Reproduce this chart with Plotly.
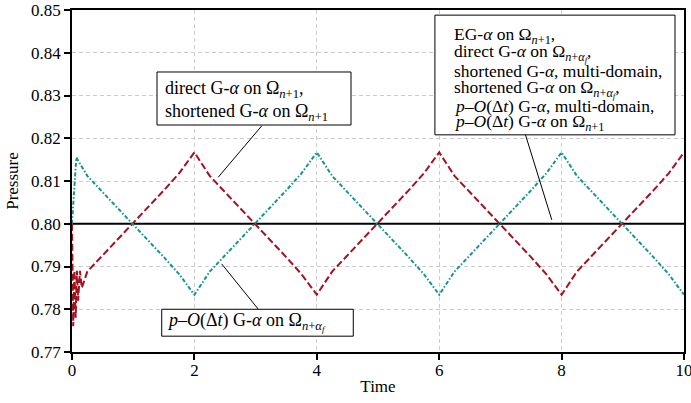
import plotly.graph_objects as go

# ---------------- data ----------------
t_red = [0.0, 0.02, 0.04, 0.06, 0.08, 0.10, 0.13, 0.16,
         0.25, 0.5, 0.75, 1.0, 1.25, 1.5, 1.75, 2.0,
         2.25, 2.5, 2.75, 3.0, 3.25, 3.5, 3.75, 4.0,
         4.25, 4.5, 4.75, 5.0, 5.25, 5.5, 5.75, 6.0,
         6.25, 6.5, 6.75, 7.0, 7.25, 7.5, 7.75, 8.0,
         8.25, 8.5, 8.75, 9.0, 9.25, 9.5, 9.75, 10.0]
p_red = [0.800, 0.776, 0.789, 0.778, 0.789, 0.782, 0.789, 0.785,
         0.7888, 0.7926, 0.7963, 0.8000, 0.8038, 0.8078, 0.8118, 0.8167,
         0.8112, 0.8074, 0.8037, 0.8000, 0.7962, 0.7922, 0.7882, 0.7834,
         0.7888, 0.7926, 0.7963, 0.8000, 0.8038, 0.8078, 0.8118, 0.8167,
         0.8112, 0.8074, 0.8037, 0.8000, 0.7962, 0.7922, 0.7882, 0.7834,
         0.7888, 0.7926, 0.7963, 0.8000, 0.8038, 0.8078, 0.8118, 0.8167]

t_teal = [0.0, 0.03, 0.07,
          0.25, 0.5, 0.75, 1.0, 1.25, 1.5, 1.75, 2.0,
          2.25, 2.5, 2.75, 3.0, 3.25, 3.5, 3.75, 4.0,
          4.25, 4.5, 4.75, 5.0, 5.25, 5.5, 5.75, 6.0,
          6.25, 6.5, 6.75, 7.0, 7.25, 7.5, 7.75, 8.0,
          8.25, 8.5, 8.75, 9.0, 9.25, 9.5, 9.75, 10.0]
p_teal = [0.800, 0.808, 0.8155,
          0.8112, 0.8074, 0.8037, 0.8000, 0.7962, 0.7922, 0.7882, 0.7834,
          0.7888, 0.7926, 0.7963, 0.8000, 0.8038, 0.8078, 0.8118, 0.8167,
          0.8112, 0.8074, 0.8037, 0.8000, 0.7962, 0.7922, 0.7882, 0.7834,
          0.7888, 0.7926, 0.7963, 0.8000, 0.8038, 0.8078, 0.8118, 0.8167,
          0.8112, 0.8074, 0.8037, 0.8000, 0.7962, 0.7922, 0.7882, 0.7834]

t_black = [0.0, 10.0]
p_black = [0.80, 0.80]

x_ticks = [0, 2, 4, 6, 8, 10]
y_ticks = [0.77, 0.78, 0.79, 0.80, 0.81, 0.82, 0.83, 0.84, 0.85]

box1_lines = ["direct G-<i>α</i> on Ω<sub><i>n</i>+1</sub>,",
              "shortened G-<i>α</i> on Ω<sub><i>n</i>+1</sub>"]
box2_lines = ["EG-<i>α</i> on Ω<sub><i>n</i>+1</sub>,",
              "direct G-<i>α</i> on Ω<sub><i>n</i>+<i>α<sub>f</sub></i></sub>,",
              "shortened G-<i>α</i>, multi-domain,",
              "shortened G-<i>α</i> on Ω<sub><i>n</i>+<i>α<sub>f</sub></i></sub>,",
              "<i>p</i>–<i>O</i>(Δ<i>t</i>) G-<i>α</i>, multi-domain,",
              "<i>p</i>–<i>O</i>(Δ<i>t</i>) G-<i>α</i> on Ω<sub><i>n</i>+1</sub>"]
box3_lines = ["<i>p</i>–<i>O</i>(Δ<i>t</i>) G-<i>α</i> on Ω<sub><i>n</i>+<i>α<sub>f</sub></i></sub>"]

RED = "#a3121f"
TEAL = "#12968a"
FONT = "Liberation Serif"

fig = go.Figure()
fig.add_trace(go.Scatter(x=t_black, y=p_black, mode="lines",
                         line=dict(color="black", width=2), showlegend=False))
fig.add_trace(go.Scatter(x=t_red, y=p_red, mode="lines",
                         line=dict(color=RED, width=2, dash="7px,3px"), showlegend=False))
fig.add_trace(go.Scatter(x=t_teal, y=p_teal, mode="lines",
                         line=dict(color=TEAL, width=2, dash="4px,2px,1.5px,2px"), showlegend=False))

# ---- annotation boxes (data coordinates) ----
boxes = [
    dict(x0=1.389, x1=4.559, y0=0.8231, y1=0.8355),
    dict(x0=5.930, x1=9.853, y0=0.8208, y1=0.8488),
    dict(x0=1.466, x1=4.596, y0=0.7737, y1=0.7800),
]
for b in boxes:
    fig.add_shape(type="rect", xref="x", yref="y", x0=b["x0"], x1=b["x1"],
                  y0=b["y0"], y1=b["y1"], line=dict(color="black", width=1),
                  fillcolor="white", layer="above")

leaders = [
    dict(x0=3.10, y0=0.8229, x1=2.39, y1=0.8109),
    dict(x0=7.41, y0=0.8208, x1=7.84, y1=0.8009),
    dict(x0=3.044, y0=0.7800, x1=2.446, y1=0.7906),
]
for l in leaders:
    fig.add_shape(type="line", xref="x", yref="y", x0=l["x0"], y0=l["y0"],
                  x1=l["x1"], y1=l["y1"], line=dict(color="black", width=1),
                  layer="above")

def add_lines(lines, x, ys, size):
    for txt, y in zip(lines, ys):
        fig.add_annotation(x=x, y=y, xref="x", yref="y", text=txt, showarrow=False,
                           xanchor="left", yanchor="middle", align="left",
                           font=dict(family=FONT, size=size, color="black"))

add_lines(box1_lines, 1.49, [0.8313, 0.8261], 18)
add_lines(box2_lines, 6.21, [0.8440, 0.8399, 0.8358, 0.8316, 0.8276, 0.8237], 17.5)
add_lines(box3_lines, 1.52, [0.7770], 18)

fig.update_layout(
    width=691, height=403,
    margin=dict(l=72, r=7, t=10, b=51, autoexpand=False),
    plot_bgcolor="white", paper_bgcolor="white",
    font=dict(family=FONT, size=17, color="black"),
    showlegend=False,
)
fig.update_xaxes(range=[0, 10], tickvals=x_ticks, ticktext=[str(v) for v in x_ticks],
                 showline=True, mirror=True, linecolor="black", linewidth=1.5,
                 ticks="outside", ticklen=6, tickwidth=1.5, tickcolor="black",
                 showgrid=True, gridcolor="#cccccc", gridwidth=1, griddash="4px,3px",
                 zeroline=False, automargin=False, ticklabeloverflow="allow",
                 ticklabelstandoff=-4,
                 title=dict(text="Time", standoff=1, font=dict(size=17)),
                 tickfont=dict(size=17))
fig.update_yaxes(range=[0.77, 0.85], tickvals=y_ticks, ticktext=[f"{v:.2f}" for v in y_ticks],
                 showline=True, mirror=True, linecolor="black", linewidth=1.5,
                 ticks="outside", ticklen=6, tickwidth=1.5, tickcolor="black",
                 showgrid=True, gridcolor="#cccccc", gridwidth=1, griddash="4px,3px",
                 zeroline=False, automargin=False, ticklabeloverflow="allow",
                 title=dict(text="Pressure", standoff=8, font=dict(size=17)),
                 tickfont=dict(size=17))

fig.write_html("out.html")
